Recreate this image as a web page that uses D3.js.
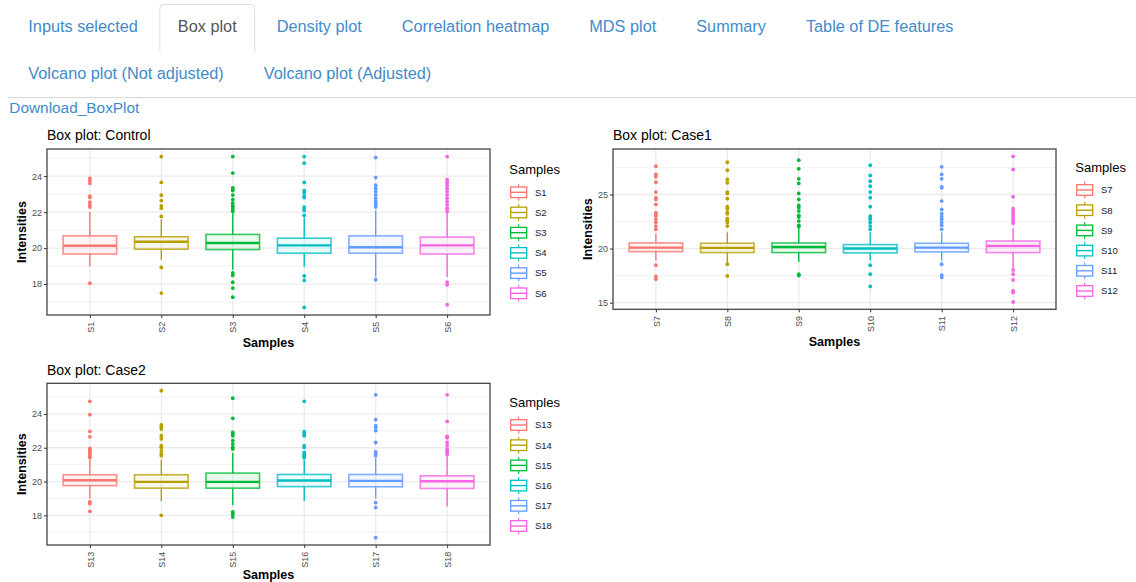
<!DOCTYPE html>
<meta charset="utf-8">
<style>
body { margin: 0; background: #fff; }
svg text { font-family: "Liberation Sans", Arial, sans-serif; }
.tab { font-size: 16.3px; fill: #428bca; }
.tab.active { fill: #555; }
.download { font-size: 15.4px; fill: #428bca; }
.ptitle { font-size: 14px; fill: #000; }
.atitle { font-size: 12.5px; font-weight: bold; fill: #000; }
.axis text { font-size: 9px; fill: #4d4d4d; }
.axis path { display: none; }
.axis line { stroke: #333; }
.ltitle { font-size: 13px; fill: #000; }
.llabel { font-size: 9.5px; fill: #1a1a1a; }
</style>
<body>
<svg id="chart" width="1136" height="582"></svg>
<script src="https://cdn.jsdelivr.net/npm/d3@7"></script>
<script>

var tabRow1 = ["Inputs selected", "Box plot", "Density plot", "Correlation heatmap", "MDS plot", "Summary", "Table of DE features"];
var tabRow2 = ["Volcano plot (Not adjusted)", "Volcano plot (Adjusted)"];
var activeTab = "Box plot";
var palette = ["#F8766D", "#B79F00", "#00BA38", "#00BFC4", "#619CFF", "#F564E3"];

// Control
var controlSamples = ["S1", "S2", "S3", "S4", "S5", "S6"];
var controlQ1 = [19.67, 19.94, 19.92, 19.72, 19.72, 19.67];
var controlMedian = [20.13, 20.35, 20.28, 20.15, 20.05, 20.15];
var controlQ3 = [20.68, 20.63, 20.76, 20.55, 20.68, 20.61];
var controlLow = [18.98, 19.35, 18.8, 18.96, 18.4, 18.4];
var controlHigh = [22.0, 21.6, 21.95, 21.7, 22.1, 21.95];
var controlOutliers = [
  [23.87, 23.74, 23.6, 22.89, 22.81, 22.55, 22.4, 22.28, 18.05],
  [25.09, 23.65, 22.94, 22.64, 22.35, 22.22, 21.76, 18.92, 17.5],
  [25.09, 24.17, 23.35, 23.3, 23.2, 22.95, 22.7, 22.5, 22.35, 22.28, 22.17, 22.05, 18.62, 18.48, 18.1, 17.78, 17.27],
  [25.09, 24.72, 23.65, 23.2, 23.09, 22.9, 22.81, 22.28, 22.17, 22.09, 21.82, 18.45, 18.2, 16.7],
  [25.03, 23.92, 23.5, 23.33, 23.14, 22.96, 22.77, 22.59, 22.5, 22.4, 22.28, 18.24],
  [25.09, 23.8, 23.65, 23.5, 23.33, 23.14, 22.96, 22.77, 22.59, 22.4, 22.22, 22.05, 18.11, 17.96, 16.85]
];
var controlTicks = [18, 20, 22, 24];

// Case1
var case1Samples = ["S7", "S8", "S9", "S10", "S11", "S12"];
var case1Q1 = [19.72, 19.63, 19.63, 19.6, 19.69, 19.63];
var case1Median = [20.09, 20.06, 20.15, 20.0, 20.09, 20.24];
var case1Q3 = [20.52, 20.49, 20.52, 20.37, 20.49, 20.7];
var case1Low = [18.9, 18.7, 18.77, 18.9, 18.9, 18.2];
var case1High = [21.4, 21.5, 21.9, 21.5, 21.5, 21.9];
var case1Outliers = [
  [27.61, 26.85, 26.64, 26.14, 25.22, 24.7, 24.54, 24.08, 23.32, 23.16, 23.0, 22.7, 22.4, 22.08, 21.78, 18.46, 17.42, 17.17],
  [27.98, 27.24, 26.39, 26.08, 25.22, 25.1, 24.61, 23.87, 23.69, 23.37, 23.23, 22.76, 22.61, 22.4, 22.08, 18.55, 17.47],
  [28.17, 27.37, 26.45, 26.02, 25.1, 24.54, 23.99, 23.78, 23.47, 23.07, 22.91, 22.54, 22.15, 22.03, 17.63, 17.5],
  [27.7, 26.76, 26.23, 25.77, 25.22, 24.7, 23.87, 23.0, 22.86, 22.7, 22.4, 22.08, 21.78, 18.46, 17.63, 16.5],
  [27.56, 26.85, 26.45, 25.71, 25.62, 24.39, 23.62, 23.23, 22.95, 22.7, 22.4, 22.15, 21.78, 18.55, 17.54, 17.33],
  [28.53, 27.31, 24.79, 23.69, 23.47, 23.25, 23.0, 22.76, 22.54, 22.33, 18.03, 17.63, 17.1, 16.09, 15.94, 15.06]
];
var case1Ticks = [15, 20, 25];

// Case2
var case2Samples = ["S13", "S14", "S15", "S16", "S17", "S18"];
var case2Q1 = [19.76, 19.61, 19.61, 19.7, 19.69, 19.59];
var case2Median = [20.08, 19.98, 19.98, 20.06, 20.04, 20.02];
var case2Q3 = [20.4, 20.4, 20.5, 20.42, 20.42, 20.34];
var case2Low = [19.0, 18.85, 18.6, 18.85, 19.0, 18.52];
var case2High = [21.3, 21.3, 21.7, 21.3, 21.4, 21.5];
var case2Outliers = [
  [24.75, 23.96, 22.97, 22.65, 21.96, 21.86, 21.72, 21.63, 21.53, 21.42, 18.8, 18.69, 18.24],
  [25.38, 23.35, 23.25, 23.11, 22.71, 22.52, 22.12, 22.02, 21.82, 21.63, 21.53, 18.0],
  [24.93, 23.74, 22.91, 22.81, 22.71, 22.42, 22.22, 22.02, 21.92, 18.2, 18.07, 17.9],
  [24.75, 22.95, 22.85, 22.71, 22.12, 22.02, 21.72, 21.63, 21.57, 21.48, 21.42],
  [25.13, 23.66, 23.31, 23.21, 23.01, 22.31, 21.76, 21.63, 21.53, 18.75, 18.46, 16.68],
  [25.13, 23.56, 22.67, 22.59, 22.31, 22.12, 21.92, 21.82, 21.72, 21.58]
];
var case2Ticks = [18, 20, 22, 24];

var svg = d3.select("#chart");

// tabs
function drawTabs(labels, baseline, top, bottom) {
  var xPos = 10.3;
  labels.forEach(function (label) {
    var active = label === activeTab;
    var t = svg.append("text")
      .attr("class", active ? "tab active" : "tab")
      .attr("y", baseline)
      .text(label);
    var w = t.node().getComputedTextLength();
    if (active) {
      var l = xPos, r = xPos + w + 36, rad = 4;
      svg.insert("path", "text")
        .attr("d", "M" + l + "," + bottom + "V" + (top + rad) +
          "Q" + l + "," + top + " " + (l + rad) + "," + top +
          "H" + (r - rad) + "Q" + r + "," + top + " " + r + "," + (top + rad) +
          "V" + bottom)
        .attr("fill", "#fff")
        .attr("stroke", "#ddd");
    }
    t.attr("x", xPos + 18);
    xPos += w + 36 + 4;
  });
}
drawTabs(tabRow1, 31.5, 4.5, 51.5);
drawTabs(tabRow2, 78.5, 51.5, 97.5);
svg.append("line").attr("x1", 8).attr("x2", 1136).attr("y1", 97.7).attr("y2", 97.7)
  .attr("stroke", "#ddd").attr("stroke-width", 1.2);
svg.append("text").attr("class", "download").attr("x", 9.3).attr("y", 113).text("Download_BoxPlot");

var panels = [
  { title: "Box plot: Control", samples: controlSamples, q1: controlQ1, median: controlMedian, q3: controlQ3,
    low: controlLow, high: controlHigh, outliers: controlOutliers, ticks: controlTicks,
    x0: 47, x1: 490, y0: 149, y1: 315, legendY: 174 },
  { title: "Box plot: Case1", samples: case1Samples, q1: case1Q1, median: case1Median, q3: case1Q3,
    low: case1Low, high: case1High, outliers: case1Outliers, ticks: case1Ticks,
    x0: 613, x1: 1056, y0: 149, y1: 309.3, legendY: 171.7 },
  { title: "Box plot: Case2", samples: case2Samples, q1: case2Q1, median: case2Median, q3: case2Q3,
    low: case2Low, high: case2High, outliers: case2Outliers, ticks: case2Ticks,
    x0: 47, x1: 490, y0: 383.3, y1: 545, legendY: 406.7 }
];

function drawPanel(p) {
  var g = svg.append("g");
  var all = d3.merge([p.low, p.high, d3.merge(p.outliers)]);
  var ext = d3.extent(all);
  var pad = (ext[1] - ext[0]) * 0.05;
  var x = d3.scalePoint().domain(p.samples).range([p.x0, p.x1]).padding(0.6);
  var y = d3.scaleLinear().domain([ext[0] - pad, ext[1] + pad]).range([p.y1, p.y0]);
  var step = p.ticks[1] - p.ticks[0];
  var minor = d3.range(p.ticks[0] - step * 2.5, y.domain()[1], step).filter(function (v) {
    return v > y.domain()[0];
  });
  var color = d3.scaleOrdinal().domain(p.samples).range(palette);
  var bw = x.step() * 0.75;

  // grid
  g.selectAll(".minor").data(minor).enter().append("line")
    .attr("x1", p.x0).attr("x2", p.x1)
    .attr("y1", function (d) { return y(d); }).attr("y2", function (d) { return y(d); })
    .attr("stroke", "#ececec").attr("stroke-width", 0.7);
  g.selectAll(".major").data(p.ticks).enter().append("line")
    .attr("x1", p.x0).attr("x2", p.x1)
    .attr("y1", function (d) { return y(d); }).attr("y2", function (d) { return y(d); })
    .attr("stroke", "#ebebeb").attr("stroke-width", 1.3);
  g.selectAll(".vgrid").data(p.samples).enter().append("line")
    .attr("x1", function (d) { return x(d); }).attr("x2", function (d) { return x(d); })
    .attr("y1", p.y0).attr("y2", p.y1)
    .attr("stroke", "#ebebeb").attr("stroke-width", 1.3);

  var boxes = g.selectAll(".box").data(p.samples).enter().append("g")
    .attr("transform", function (d) { return "translate(" + x(d) + ",0)"; });

  boxes.each(function (s, i) {
    var b = d3.select(this);
    var c = color(s);
    b.selectAll("circle").data(p.outliers[i]).enter().append("circle")
      .attr("cx", 0).attr("cy", function (d) { return y(d); })
      .attr("r", 1.9).attr("fill", c);
    b.append("line").attr("y1", y(p.q3[i])).attr("y2", y(p.high[i]))
      .attr("stroke", c).attr("stroke-width", 1.4);
    b.append("line").attr("y1", y(p.q1[i])).attr("y2", y(p.low[i]))
      .attr("stroke", c).attr("stroke-width", 1.4);
    b.append("rect")
      .attr("x", -bw / 2).attr("width", bw)
      .attr("y", y(p.q3[i])).attr("height", y(p.q1[i]) - y(p.q3[i]))
      .attr("fill", c).attr("fill-opacity", 0.08)
      .attr("stroke", c).attr("stroke-opacity", 0.8).attr("stroke-width", 1.6);
    b.append("line").attr("x1", -bw / 2).attr("x2", bw / 2)
      .attr("y1", y(p.median[i])).attr("y2", y(p.median[i]))
      .attr("stroke", c).attr("stroke-width", 2.4);
  });

  g.append("rect")
    .attr("x", p.x0).attr("y", p.y0)
    .attr("width", p.x1 - p.x0).attr("height", p.y1 - p.y0)
    .attr("fill", "none").attr("stroke", "#444").attr("stroke-width", 1.3);

  // axes
  g.append("g").attr("class", "axis")
    .attr("transform", "translate(" + p.x0 + ",0)")
    .call(d3.axisLeft(y).tickValues(p.ticks).tickSize(3).tickPadding(2));

  var xa = g.append("g").attr("class", "axis")
    .attr("transform", "translate(0," + p.y1 + ")")
    .call(d3.axisBottom(x).tickSize(3).tickPadding(0));
  var maxLen = 0;
  xa.selectAll("text")
    .attr("transform", "rotate(-90)")
    .attr("text-anchor", "end")
    .attr("x", -6.7).attr("y", 0).attr("dy", "0.35em")
    .each(function () { maxLen = Math.max(maxLen, this.getComputedTextLength()); });

  g.append("text").attr("class", "atitle")
    .attr("x", (p.x0 + p.x1) / 2).attr("y", Math.min(p.y1 + 6.7 + maxLen + 14.4, 579))
    .attr("text-anchor", "middle").text("Samples");
  g.append("text").attr("class", "atitle")
    .attr("transform", "translate(" + (p.x0 - 21) + "," + ((p.y0 + p.y1) / 2) + ") rotate(-90)")
    .attr("text-anchor", "middle").text("Intensities");
  g.append("text").attr("class", "ptitle")
    .attr("x", p.x0).attr("y", p.y0 - 8.7).text(p.title);

  // legend
  var lg = g.append("g").attr("transform", "translate(" + (p.x1 + 19.3) + "," + p.legendY + ")");
  lg.append("text").attr("class", "ltitle").text("Samples");
  var keys = lg.selectAll(".key").data(p.samples).enter().append("g")
    .attr("transform", function (d, i) { return "translate(0," + (18.3 + i * 20.2) + ")"; });
  keys.append("line").attr("x1", 9.4).attr("x2", 9.4).attr("y1", -8.5).attr("y2", 8.5)
    .attr("stroke", function (d) { return color(d); }).attr("stroke-width", 1.1);
  keys.append("rect").attr("x", 1.4).attr("y", -5.3).attr("width", 16).attr("height", 10.6)
    .attr("fill", "#fff")
    .attr("stroke", function (d) { return color(d); }).attr("stroke-width", 1.3);
  keys.append("line").attr("x1", 1.4).attr("x2", 17.4).attr("y1", 0).attr("y2", 0)
    .attr("stroke", function (d) { return color(d); }).attr("stroke-width", 1.4);
  keys.append("text").attr("class", "llabel").attr("x", 25.7).attr("dy", "0.35em")
    .text(function (d) { return d; });
}

panels.forEach(drawPanel);

</script>
